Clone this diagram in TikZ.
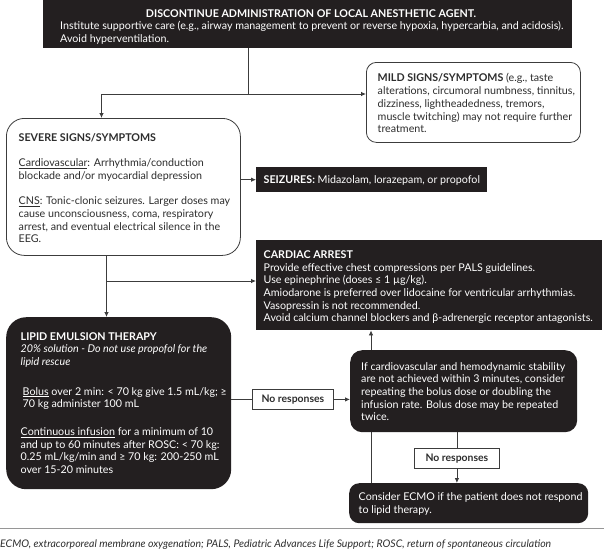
\documentclass[tikz,border=0pt]{standalone}
\usepackage{fontspec}
\setmainfont{Lato}
\usetikzlibrary{arrows.meta,backgrounds}
\definecolor{boxblack}{RGB}{35,31,32}
\definecolor{linegray}{RGB}{60,60,60}
\definecolor{textgray}{RGB}{45,45,45}
\definecolor{rulegray}{RGB}{150,150,150}

\begin{document}
\begin{tikzpicture}[x=1pt,y=1pt,yscale=-1,xscale=1,
  darkbox/.style={fill=boxblack,draw=none,anchor=north west,inner sep=0pt},
  lightbox/.style={fill=white,draw=linegray,line width=0.8pt,anchor=north west,inner sep=0pt},
  tagbox/.style={lightbox,text=textgray,font=\fontsize{10.4}{12.7}\selectfont\bfseries},
  bodytext/.style={anchor=north west,inner sep=0pt,align=left,font=\fontsize{10.7}{12.7}\selectfont},
  conn/.style={draw=linegray,line width=0.8pt},
  arr/.style={conn,-{Latex[length=5pt,width=4.5pt]}}]
\useasboundingbox (0,0) rectangle (604,554);

%Shape: Rectangle (top)
\node [darkbox,minimum width=529pt,minimum height=48pt] (top) at (43,0) {};
%Shape: Rounded Rect (mild)
\node [lightbox,rounded corners=10pt,minimum width=214pt,minimum height=80pt] (mild) at (366,62) {};
%Shape: Rounded Rect (severe)
\node [lightbox,rounded corners=18pt,minimum width=234pt,minimum height=137pt] (severe) at (6,118) {};
%Shape: Rectangle (seizures)
\node [darkbox,minimum width=231pt,minimum height=25pt] (seizure) at (256,167) {};
%Shape: Rectangle (cardiac arrest)
\node [darkbox,minimum width=346pt,minimum height=90pt] (cardiac) at (256,240) {};
%Shape: Rounded Rect (lipid)
\node [darkbox,rounded corners=20pt,minimum width=225pt,minimum height=172pt] (lipid) at (6,317) {};
%Shape: Rounded Rect (repeat)
\node [darkbox,rounded corners=12pt,minimum width=227pt,minimum height=82pt] (ifbox) at (350,350) {};
%Shape: Rounded Rect (ecmo)
\node [darkbox,rounded corners=10pt,minimum width=239pt,minimum height=40pt] (ecmo) at (349,483) {};
%Shape: Rectangle (no responses)
\node [tagbox,minimum width=81pt,minimum height=20pt] (resp1) at (252,389) {No responses};
\node [tagbox,minimum width=85pt,minimum height=20pt] (resp2) at (414,448) {No responses};

% Text Node
\node [bodytext,anchor=center,text=white,font=\fontsize{10.7}{12.7}\selectfont\bfseries] (toptitle) at (311,13.5) {DISCONTINUE ADMINISTRATION OF LOCAL ANESTHETIC AGENT.};
% Text Node
\node [bodytext,text=white] (toptext) at (60,21) {Institute supportive care (e.g., airway management to prevent or reverse hypoxia, hypercarbia, and acidosis).\\Avoid hyperventilation.};
% Text Node
\node [bodytext,text=textgray] (mildtext) at (377.5,73.5) {\textbf{MILD SIGNS/SYMPTOMS} (e.g., taste\\alterations, circumoral numbness, tinnitus,\\dizziness, lightheadedness, tremors,\\muscle twitching) may not require further\\treatment.};
% Text Node
\node [bodytext,text=textgray] (severetext) at (18.5,133) {\textbf{SEVERE SIGNS/SYMPTOMS}\\[12.7pt]\underline{Cardiovascular}: Arrhythmia/conduction\\blockade and/or myocardial depression\\[12.7pt]\underline{CNS}: Tonic-clonic seizures. Larger doses may\\cause unconsciousness, coma, respiratory\\arrest, and eventual electrical silence in the\\EEG.};
% Text Node
\node [bodytext,anchor=west,text=white] (seizuretext) at (263.5,180) {\textbf{SEIZURES:} Midazolam, lorazepam, or propofol};
% Text Node
\node [bodytext,text=white] (cardiactext) at (263.5,250.4) {\textbf{CARDIAC ARREST}\\Provide effective chest compressions per PALS guidelines.\\Use epinephrine (doses ≤ 1 µg/kg).\\Amiodarone is preferred over lidocaine for ventricular arrhythmias.\\Vasopressin is not recommended.\\Avoid calcium channel blockers and β-adrenergic receptor antagonists.};
% Text Node
\node [bodytext,text=white] (lipidtext) at (20.5,332) {\textbf{LIPID EMULSION THERAPY}\\\textit{20\% solution - Do not use propofol for the}\\\textit{lipid rescue}\\[17pt]\hspace*{2pt}\underline{Bolus} over 2 min: < 70 kg give 1.5 mL/kg; ≥\\\hspace*{2pt}70 kg administer 100 mL\\[15pt]\underline{Continuous infusion} for a minimum of 10\\and up to 60 minutes after ROSC: < 70 kg:\\0.25 mL/kg/min and ≥ 70 kg: 200-250 mL\\over 15-20 minutes};
% Text Node
\node [bodytext,text=white] (iftext) at (361,362) {If cardiovascular and hemodynamic stability\\are not achieved within 3 minutes, consider\\repeating the bolus dose or doubling the\\infusion rate. Bolus dose may be repeated\\twice.};
% Text Node
\node [bodytext,text=white] (ecmotext) at (358.5,492.5) {Consider ECMO if the patient does not respond\\to lipid therapy.};
% Text Node
\node [bodytext,anchor=west,text=textgray,font=\fontsize{10.5}{12.7}\selectfont\itshape] (footnote) at (0,545) {ECMO, extracorporeal membrane oxygenation; PALS, Pediatric Advances Life Support; ROSC, return of spontaneous circulation};

% connectors
\coordinate (split) at (248,94);
\coordinate (branch) at (106.5,281);
\draw [conn] (top.south -| split) -- (split);
\draw [arr] (split) -- (split -| mild.west);
\draw [arr] (split) -| ([xshift=95.5pt]severe.north west);
\draw [arr] (severe.east |- seizure.west) -- (seizure.west);
\draw [conn] (severe.south -| branch) -- (branch);
\draw [arr] (branch) -- (lipid.north -| branch);
\draw [arr] (branch) -- (branch -| cardiac.west);
\draw [conn] (lipid.east |- resp1.west) -- (resp1.west);
\draw [arr] (resp1.east) -- (resp1.east -| ifbox.west);
\draw [conn] (ifbox.south -| resp2.north) -- (resp2.north);
\draw [arr] (resp2.south) -- (resp2.south |- ecmo.north);
\begin{scope}[on background layer]
\draw [arr] ([xshift=22pt]ecmo.north west) -- ([xshift=22pt]ecmo.north west |- cardiac.south);
\end{scope}

%Shape: Line (rule)
\draw [rulegray,line width=1pt] (0,528.5) -- (604,528.5);

\end{tikzpicture}
\end{document}
